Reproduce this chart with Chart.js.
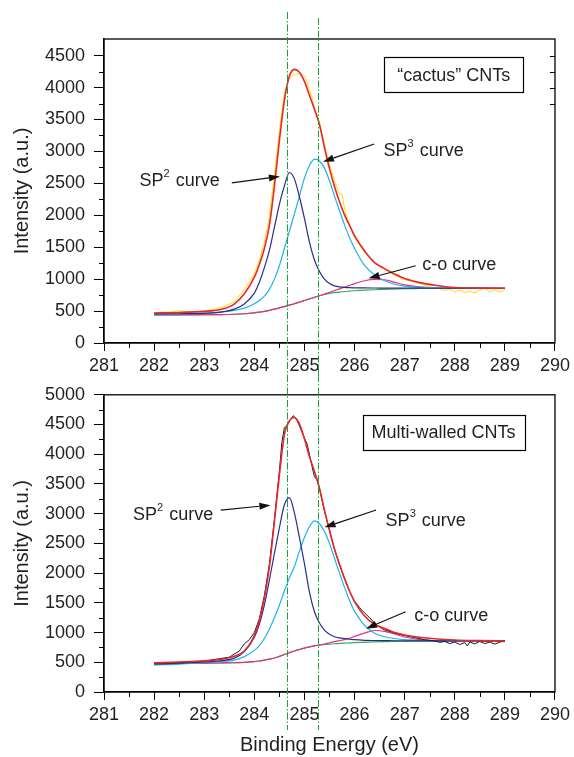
<!DOCTYPE html>
<html><head><meta charset="utf-8">
<script src="https://cdn.jsdelivr.net/npm/chart.js@4.4.0/dist/chart.umd.min.js"></script>
<style>
html,body{margin:0;padding:0;background:#fff;width:574px;height:757px;overflow:hidden}
canvas{display:block}
#w1{position:absolute;left:0;top:0;width:574px;height:375px}
#w2{position:absolute;left:0;top:375px;width:574px;height:382px}
</style></head><body>
<div id="w1"><canvas id="c1" width="574" height="375"></canvas></div>
<div id="w2"><canvas id="c2" width="574" height="382"></canvas></div>
<script>
// ---------- data ----------
const xTicks = [281, 282, 283, 284, 285, 286, 287, 288, 289, 290];
const yTicksTop = [0, 500, 1000, 1500, 2000, 2500, 3000, 3500, 4000, 4500];
const yTicksBottom = [0, 500, 1000, 1500, 2000, 2500, 3000, 3500, 4000, 4500, 5000];
const markerEnergies = [284.65, 285.27];

const energy = [282.0, 282.5, 283.0, 283.3, 283.6, 283.8, 284.0, 284.1, 284.2, 284.3,
  284.4, 284.5, 284.6, 284.7, 284.8, 284.9, 285.0, 285.1, 285.2, 285.3,
  285.4, 285.5, 285.6, 285.7, 285.8, 285.9, 286.0, 286.2, 286.4, 286.6,
  286.8, 287.0, 287.3, 287.6, 288.0, 288.5, 289.0];

// "cactus" CNTs
const cactusFit = [470, 478, 495, 520, 610, 770, 1030, 1230, 1480, 1840,
  2450, 3170, 3800, 4180, 4285, 4240, 4096, 3880, 3660, 3420,
  3060, 2730, 2450, 2210, 2006, 1840, 1680, 1440, 1260, 1165,
  1080, 1010, 945, 905, 870, 860, 857];
const cactusSp2 = [455, 458, 465, 480, 530, 610, 780, 950, 1180, 1450,
  1810, 2170, 2460, 2670, 2570, 2290, 1950, 1580, 1300, 1120,
  1000, 930, 895, 878, 870, 866, 864, 862, 861, 860,
  859, 858, 858, 857, 857, 857, 857];
const cactusSp3 = [445, 452, 468, 482, 510, 545, 615, 665, 735, 840,
  1000, 1210, 1480, 1750, 2020, 2300, 2581, 2780, 2880, 2850,
  2738, 2540, 2300, 2070, 1850, 1650, 1480, 1215, 1065, 975,
  920, 890, 870, 862, 860, 858, 857];
const cactusCo = [440, 441, 443, 445, 450, 458, 472, 482, 496, 512,
  530, 550, 570, 592, 615, 640, 665, 690, 715, 740,
  765, 792, 820, 848, 875, 902, 930, 975, 995, 990,
  950, 910, 878, 865, 860, 858, 857];
const cactusBg = [440, 441, 443, 445, 450, 458, 472, 482, 496, 512,
  530, 550, 570, 592, 615, 640, 665, 690, 715, 740,
  760, 775, 788, 798, 806, 812, 818, 827, 834, 840,
  845, 850, 853, 855, 857, 857, 857];
const cactusRawEnergy = [282.0, 282.3, 282.5, 282.7, 283.0, 283.3, 283.6, 283.8, 284.0, 284.1,
  284.2, 284.3, 284.4, 284.5, 284.6, 284.7, 284.8, 284.85, 284.9, 285.0,
  285.05, 285.1, 285.15, 285.2, 285.3, 285.4, 285.5, 285.6, 285.7, 285.75,
  285.8, 285.9, 286.0, 286.2, 286.4, 286.6, 286.8, 287.0, 287.3, 287.5,
  287.7, 287.8, 287.9, 288.0, 288.1, 288.2, 288.3, 288.4, 288.5, 288.6,
  288.7, 288.8, 288.9, 289.0];
const cactusRaw = [480, 485, 505, 488, 500, 545, 640, 840, 1080, 1300,
  1580, 1980, 2620, 3330, 3920, 4150, 4200, 4215, 4210, 4180,
  4090, 3960, 3860, 3680, 3460, 3110, 2800, 2530, 2330, 2330,
  2100, 1860, 1650, 1420, 1250, 1150, 1060, 990, 930, 880,
  850, 820, 845, 800, 830, 790, 810, 785, 830, 860,
  800, 830, 795, 830];

// Multi-walled CNTs
const mwFit = [490, 505, 525, 548, 600, 690, 950, 1200, 1580, 2100,
  2860, 3650, 4330, 4560, 4618, 4510, 4260, 3960, 3710, 3430,
  3060, 2720, 2405, 2150, 1913, 1700, 1520, 1280, 1140, 1070,
  1000, 960, 920, 895, 875, 865, 859];
const mwSp2 = [470, 485, 505, 525, 570, 680, 920, 1140, 1460, 1880,
  2330, 2760, 3150, 3270, 3010, 2600, 2160, 1680, 1350, 1160,
  1040, 970, 929, 910, 900, 890, 880, 870, 866, 864,
  862, 861, 860, 860, 859, 859, 859];
const mwSp3 = [455, 470, 495, 510, 535, 595, 700, 780, 900, 1060,
  1250, 1460, 1700, 1920, 2110, 2370, 2600, 2780, 2878, 2830,
  2700, 2500, 2250, 2000, 1760, 1540, 1360, 1120, 990, 930,
  900, 880, 868, 863, 861, 860, 859];
const mwCo = [480, 482, 485, 488, 492, 500, 512, 522, 535, 552,
  572, 600, 630, 660, 690, 715, 738, 758, 775, 790,
  808, 828, 848, 865, 880, 905, 935, 990, 1035, 1020,
  975, 925, 880, 865, 860, 860, 859];
const mwBg = [480, 482, 485, 488, 492, 500, 512, 522, 535, 552,
  572, 600, 630, 660, 690, 715, 738, 758, 775, 790,
  798, 806, 812, 817, 822, 826, 830, 836, 842, 847,
  851, 854, 856, 858, 859, 859, 859];
const mwRawEnergy = [282.0, 282.3, 282.6, 283.0, 283.3, 283.5, 283.7, 283.8, 283.9, 284.0,
  284.1, 284.2, 284.3, 284.4, 284.5, 284.55, 284.6, 284.65, 284.7, 284.78,
  284.85, 284.9, 285.0, 285.05, 285.1, 285.15, 285.2, 285.25, 285.3, 285.4,
  285.5, 285.6, 285.7, 285.8, 285.9, 286.0, 286.1, 286.2, 286.3, 286.4,
  286.5, 286.6, 286.8, 287.0, 287.2, 287.4, 287.6, 287.7, 287.8, 287.9,
  288.0, 288.1, 288.2, 288.25, 288.3, 288.4, 288.5, 288.6, 288.7, 288.8,
  288.9, 289.0];
const mwRaw = [480, 490, 500, 520, 560, 585, 690, 810, 880, 1000,
  1230, 1620, 2150, 2900, 3720, 4200, 4450, 4470, 4560, 4650,
  4570, 4480, 4270, 4180, 4000, 3800, 3620, 3570, 3420, 3040,
  2720, 2400, 2140, 1900, 1690, 1530, 1420, 1330, 1250, 1160,
  1090, 1045, 990, 950, 915, 880, 860, 835, 850, 815,
  840, 800, 830, 775, 840, 810, 850, 815, 840, 805,
  840, 855];

// annotations (data coordinates: energy, intensity)
const cactusNotes = [
  {parts: ['SP', '2', ' curve'], at: [281.71, 2537], tail: [283.55, 2506], head: [284.51, 2607]},
  {parts: ['SP', '3', ' curve'], at: [286.58, 3011], tail: [286.39, 3116], head: [285.37, 2839]},
  {parts: ['c-o curve'], at: [287.35, 1221], tail: [287.22, 1210], head: [286.28, 1013]}
];
const cactusBox = {text: '\u201ccactus\u201d CNTs', from: [286.59, 4474], to: [289.37, 3920]};
const mwNotes = [
  {parts: ['SP', '2', ' curve'], at: [281.58, 2979], tail: [283.33, 3061], head: [284.32, 3143]},
  {parts: ['SP', '3', ' curve'], at: [286.62, 2869], tail: [286.43, 3061], head: [285.40, 2770]},
  {parts: ['c-o curve'], at: [287.19, 1285], tail: [287.02, 1351], head: [286.23, 1066]}
];
const mwBox = {text: 'Multi-walled CNTs', from: [286.16, 4662], to: [289.39, 4072]};

// ---------- drawing ----------
const FONT = '"Liberation Sans", Arial, Helvetica, sans-serif';
const TXT = '#231f20';
const COL = {fit: '#e8262b', sp2: '#2b2d8c', sp3: '#1bb3ea', co: '#e2318c', bg: '#38ad4c', yellow: '#f6dc12', black: '#1a1a1a', marker: '#17a23a'};

function pts(xs, ys) { return xs.map((x, i) => ({x: x, y: ys[i]})); }

function drawArrow(ctx, x1, y1, x2, y2) {
  const a = Math.atan2(y2 - y1, x2 - x1), L = 11, W = 3.6;
  const bx = x2 - L * Math.cos(a), by = y2 - L * Math.sin(a);
  ctx.beginPath(); ctx.moveTo(x1, y1); ctx.lineTo(bx, by); ctx.stroke();
  ctx.beginPath(); ctx.moveTo(x2, y2);
  ctx.lineTo(bx + W * Math.sin(a), by - W * Math.cos(a));
  ctx.lineTo(bx - W * Math.sin(a), by + W * Math.cos(a));
  ctx.closePath(); ctx.fill();
}

function makeChart(canvasId, cfg) {
  const deco = {
    id: 'deco' + canvasId,
    afterDraw(chart) {
      const ctx = chart.ctx, a = chart.chartArea, x = chart.scales.x, y = chart.scales.y;
      ctx.save();
      // frame
      ctx.strokeStyle = '#000'; ctx.lineWidth = 1.3;
      ctx.strokeRect(a.left, a.top, a.right - a.left, a.bottom - a.top);
      // minor ticks
      ctx.lineWidth = 1;
      ctx.beginPath();
      for (let i = 0; i < xTicks.length - 1; i++) {
        const px = Math.round(x.getPixelForValue((xTicks[i] + xTicks[i + 1]) / 2)) + 0.5;
        ctx.moveTo(px, a.bottom); ctx.lineTo(px, a.bottom + 5);
      }
      const yt = cfg.yTicks;
      for (let i = 0; i < yt.length - 1; i++) {
        const py = Math.round(y.getPixelForValue((yt[i] + yt[i + 1]) / 2)) + 0.5;
        ctx.moveTo(a.left - 5, py); ctx.lineTo(a.left, py);
      }
      (cfg.rightTicks || []).forEach(v => {
        const py = Math.round(y.getPixelForValue(v)) + 0.5;
        ctx.moveTo(a.right - 5, py); ctx.lineTo(a.right, py);
      });
      ctx.stroke();
      // vertical marker lines
      ctx.strokeStyle = COL.marker; ctx.lineWidth = 1;
      ctx.setLineDash([7, 2, 1.5, 2]);
      markerEnergies.forEach((e, i) => {
        const px = Math.round(x.getPixelForValue(e)) + 0.5;
        ctx.beginPath(); ctx.moveTo(px, cfg.markTop[i]); ctx.lineTo(px, cfg.markBottom); ctx.stroke();
      });
      ctx.setLineDash([]);
      // box label
      const b = cfg.box;
      const bx1 = x.getPixelForValue(b.from[0]), by1 = y.getPixelForValue(b.from[1]);
      const bx2 = x.getPixelForValue(b.to[0]), by2 = y.getPixelForValue(b.to[1]);
      ctx.strokeStyle = '#000'; ctx.lineWidth = 1.2;
      ctx.strokeRect(Math.round(bx1) + 0.5, Math.round(by1) + 0.5, Math.round(bx2 - bx1), Math.round(by2 - by1));
      ctx.fillStyle = TXT; ctx.font = '18px ' + FONT; ctx.textAlign = 'center'; ctx.textBaseline = 'middle';
      ctx.fillText(b.text, (bx1 + bx2) / 2, (by1 + by2) / 2 + 1);
      // curve labels + arrows
      ctx.textAlign = 'left';
      cfg.notes.forEach(n => {
        let cx = x.getPixelForValue(n.at[0]);
        const cy = y.getPixelForValue(n.at[1]);
        n.parts.forEach((p, k) => {
          const sup = (n.parts.length === 3 && k === 1);
          ctx.font = (sup ? '11px ' : '18px ') + FONT;
          ctx.fillText(p, cx, cy + (sup ? -7 : 0));
          cx += ctx.measureText(p).width + (sup ? 1 : 0);
        });
        ctx.strokeStyle = '#111'; ctx.fillStyle = '#111'; ctx.lineWidth = 1.2;
        drawArrow(ctx, x.getPixelForValue(n.tail[0]), y.getPixelForValue(n.tail[1]),
          x.getPixelForValue(n.head[0]), y.getPixelForValue(n.head[1]));
        ctx.fillStyle = TXT;
      });
      ctx.restore();
    }
  };
  const tickFont = {family: FONT, size: 18};
  return new Chart(document.getElementById(canvasId), {
    type: 'line',
    data: {datasets: cfg.datasets},
    options: {
      responsive: false, animation: false, devicePixelRatio: 1,
      layout: {padding: {left: 0, right: 15, top: cfg.padTop, bottom: 0}},
      plugins: {legend: {display: false}, tooltip: {enabled: false}},
      elements: {point: {radius: 0}},
      scales: {
        x: {
          type: 'linear', min: 281, max: 290,
          afterBuildTicks: s => { s.ticks = xTicks.map(v => ({value: v})); },
          afterFit: s => { s.height = cfg.xHeight; },
          ticks: {font: tickFont, color: TXT, padding: 4, maxRotation: 0, autoSkip: false, callback: v => String(v)},
          grid: {display: true, drawOnChartArea: false, drawTicks: true, tickLength: 8, color: '#000', lineWidth: 1},
          border: {display: true, color: '#000', width: 1.3},
          title: {display: !!cfg.xTitle, text: cfg.xTitle || '', font: {family: FONT, size: 20}, color: TXT, padding: {top: 0, bottom: 0}}
        },
        y: {
          type: 'linear', min: 0, max: cfg.yMax,
          afterBuildTicks: s => { s.ticks = cfg.yTicks.map(v => ({value: v})); },
          afterFit: s => { s.width = 104; },
          ticks: {font: tickFont, color: TXT, padding: 9, autoSkip: false, callback: v => String(v)},
          grid: {display: true, drawOnChartArea: false, drawTicks: true, tickLength: 10, color: '#000', lineWidth: 1},
          border: {display: true, color: '#000', width: 1.3},
          title: {display: true, text: 'Intensity (a.u.)', font: {family: FONT, size: 20}, color: TXT, padding: {top: 10, bottom: 0}}
        }
      }
    },
    plugins: [deco]
  });
}

function ds(xs, ys, color, width, smooth) {
  return {data: pts(xs, ys), borderColor: color, borderWidth: width, pointRadius: 0, fill: false,
    tension: smooth ? 0.4 : 0, cubicInterpolationMode: smooth ? 'monotone' : 'default'};
}

makeChart('c1', {
  yMax: 4760, yTicks: yTicksTop, padTop: 39, xHeight: 32, xTitle: null,
  rightTicks: [3750, 4000, 4250, 4500],
  markTop: [12, 18], markBottom: 375,
  notes: cactusNotes, box: cactusBox,
  datasets: [
    ds(energy, cactusFit, COL.fit, 1.6, true),
    ds(energy, cactusSp2, COL.sp2, 1.2, true),
    ds(energy, cactusSp3, COL.sp3, 1.2, true),
    ds(energy, cactusCo, COL.co, 1.2, true),
    ds(energy, cactusBg, COL.bg, 1.2, true),
    ds(cactusRawEnergy, cactusRaw, COL.yellow, 1, false)
  ]
});

makeChart('c2', {
  yMax: 5000, yTicks: yTicksBottom, padTop: 12, xHeight: 65, xTitle: 'Binding Energy (eV)',
  rightTicks: [],
  markTop: [0, 0], markBottom: 355,
  notes: mwNotes, box: mwBox,
  datasets: [
    ds(energy, mwFit, COL.fit, 1.6, true),
    ds(mwRawEnergy, mwRaw, COL.black, 1, false),
    ds(energy, mwSp2, COL.sp2, 1.2, true),
    ds(energy, mwSp3, COL.sp3, 1.2, true),
    ds(energy, mwCo, COL.co, 1.2, true),
    ds(energy, mwBg, COL.bg, 1.2, true)
  ]
});
</script>
</body></html>
